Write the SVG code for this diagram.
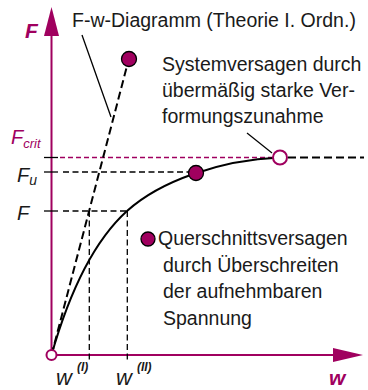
<svg xmlns="http://www.w3.org/2000/svg" width="368" height="390" viewBox="0 0 368 390">
<style>
.t{font-family:"Liberation Sans",Arial,sans-serif;font-size:19.5px;fill:#1a1a1a}
.m{fill:#A0005F}
.ax{stroke:#A0005F;stroke-width:2;fill:none}
.thin{stroke:#000;stroke-width:1.3;fill:none;stroke-dasharray:6,3.5}
.thick{stroke:#000;stroke-width:2;fill:none;stroke-dasharray:8,4}
.dot{fill:#A0005F;stroke:#000;stroke-width:1.3}
</style>
<rect width="368" height="390" fill="#fff"/>
<g id="connectors">
  <line class="ax" x1="51.5" y1="355" x2="51.5" y2="30"/>
  <polygon class="m" points="51.5,7 44,36 59,36"/>
  <line class="ax" x1="51.5" y1="355" x2="336" y2="355"/>
  <polygon class="m" points="363,355 333,348 333,362"/>
  <line x1="44" y1="157.5" x2="58" y2="157.5" stroke="#000" stroke-width="1.3"/>
  <line x1="60" y1="157.5" x2="273" y2="157.5" stroke="#A0005F" stroke-width="1.3" stroke-dasharray="5,3"/>
  <line class="thick" x1="288" y1="157.5" x2="364" y2="157.5"/>
  <line x1="44" y1="172" x2="58" y2="172" stroke="#000" stroke-width="1.3"/>
  <line class="thin" x1="63" y1="172" x2="190" y2="172"/>
  <line x1="44" y1="211" x2="58" y2="211" stroke="#000" stroke-width="1.3"/>
  <line class="thin" x1="63" y1="211" x2="127" y2="211"/>
  <line class="thin" x1="89.3" y1="211" x2="89.3" y2="362"/>
  <line class="thin" x1="127.3" y1="211" x2="127.3" y2="362"/>
  <line class="thick" x1="51.5" y1="355" x2="127" y2="66"/>
  <path d="M51.5,355 C70,290 95,240 127,211 C160,181 220,160 280,157.5" stroke="#000" stroke-width="2" fill="none"/>
  <line x1="82" y1="35" x2="111" y2="117" stroke="#000" stroke-width="1.3"/>
  <line x1="247" y1="133" x2="272" y2="153" stroke="#000" stroke-width="1.3"/>
</g>
<g id="origin"><circle cx="51.5" cy="355" r="5" fill="#fff" stroke="#A0005F" stroke-width="2"/></g>
<g id="top-point"><circle class="dot" cx="129" cy="59" r="7.5"/></g>
<g id="crit-point"><circle cx="280" cy="157.5" r="7" fill="#fff" stroke="#A0005F" stroke-width="2"/></g>
<g id="u-point"><circle class="dot" cx="196" cy="173" r="7.5"/></g>
<g id="legend-dot"><circle class="dot" cx="148" cy="239" r="7"/></g>
<g id="labels">
  <text x="25" y="38" font-family="Liberation Sans,Arial,sans-serif" font-size="21" font-weight="bold" font-style="italic" fill="#A0005F">F</text>
  <text x="329" y="385" font-family="Liberation Sans,Arial,sans-serif" font-size="21" font-weight="bold" font-style="italic" fill="#A0005F">w</text>
  <text x="11" y="144" font-family="Liberation Sans,Arial,sans-serif" font-size="20" font-style="italic" fill="#A0005F">F<tspan font-size="13" dy="4">crit</tspan></text>
  <text x="17" y="182" font-family="Liberation Sans,Arial,sans-serif" font-size="20" font-style="italic" fill="#1a1a1a">F<tspan font-size="14" dy="3">u</tspan></text>
  <text x="17" y="220" font-family="Liberation Sans,Arial,sans-serif" font-size="20" font-style="italic" fill="#1a1a1a">F</text>
  <text x="56" y="385" font-family="Liberation Sans,Arial,sans-serif" font-size="22" font-style="italic" fill="#1a1a1a">w<tspan font-size="12" font-weight="bold" dx="5" dy="-14">(I)</tspan></text>
  <text x="116" y="385" font-family="Liberation Sans,Arial,sans-serif" font-size="22" font-style="italic" fill="#1a1a1a">w<tspan font-size="12" font-weight="bold" dx="5" dy="-14">(II)</tspan></text>
  <text class="t" x="72" y="27">F-w-Diagramm (Theorie I. Ordn.)</text>
  <text class="t" x="162" y="71">Systemversagen durch</text>
  <text class="t" x="162" y="97">übermäßig starke Ver-</text>
  <text class="t" x="162" y="123">formungszunahme</text>
  <text class="t" x="158" y="245">Querschnittsversagen</text>
  <text class="t" x="163" y="271.5">durch Überschreiten</text>
  <text class="t" x="163" y="298">der aufnehmbaren</text>
  <text class="t" x="163" y="324.5">Spannung</text>
</g>
</svg>
